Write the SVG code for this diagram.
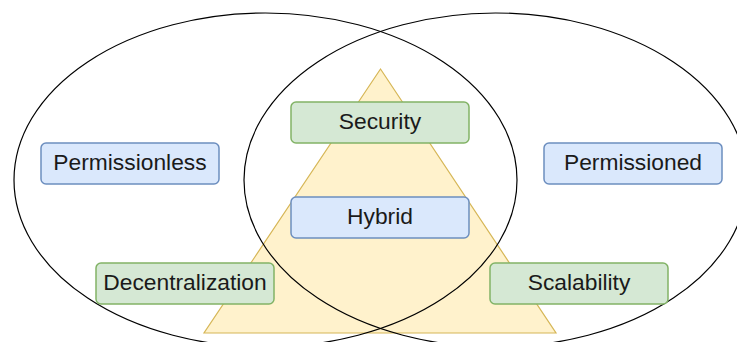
<svg xmlns="http://www.w3.org/2000/svg" width="737" height="342" viewBox="0 0 737 342">
<style>
.ell{fill:none;stroke:#000;stroke-width:1.2}
.tri{fill:#fff2cc;stroke:#d6b656;stroke-width:1.2}
.g rect{fill:#d5e8d4;stroke:#82b366;stroke-width:1.5}
.b rect{fill:#dae8fc;stroke:#6c8ebf;stroke-width:1.5}
text{font-family:"Liberation Sans",Arial,sans-serif;font-size:22.8px;fill:#1a1a1a;text-anchor:middle}
</style>
<rect width="737" height="342" fill="#fff"/>
<g id="triangle"><polygon class="tri" points="380.5,69 556,333 204,333"/></g>
<g id="permissionless-set"><ellipse class="ell" cx="265.5" cy="180" rx="251.5" ry="167"/></g>
<g id="permissioned-set"><ellipse class="ell" cx="495.5" cy="180" rx="251.5" ry="167"/></g>
<g id="connectors"></g>
<g id="security" class="g"><rect x="291" y="102" width="178" height="41" rx="5"/><text x="380" y="129">Security</text></g>
<g id="hybrid" class="b"><rect x="291" y="197" width="178" height="41" rx="5"/><text x="380" y="224">Hybrid</text></g>
<g id="permissionless" class="b"><rect x="41" y="143" width="178" height="41" rx="5"/><text x="130" y="170">Permissionless</text></g>
<g id="permissioned" class="b"><rect x="544" y="143" width="178" height="41" rx="5"/><text x="633" y="170">Permissioned</text></g>
<g id="decentralization" class="g"><rect x="96" y="263" width="178" height="41" rx="5"/><text x="185" y="290">Decentralization</text></g>
<g id="scalability" class="g"><rect x="490" y="263" width="178" height="41" rx="5"/><text x="579" y="290">Scalability</text></g>
</svg>
